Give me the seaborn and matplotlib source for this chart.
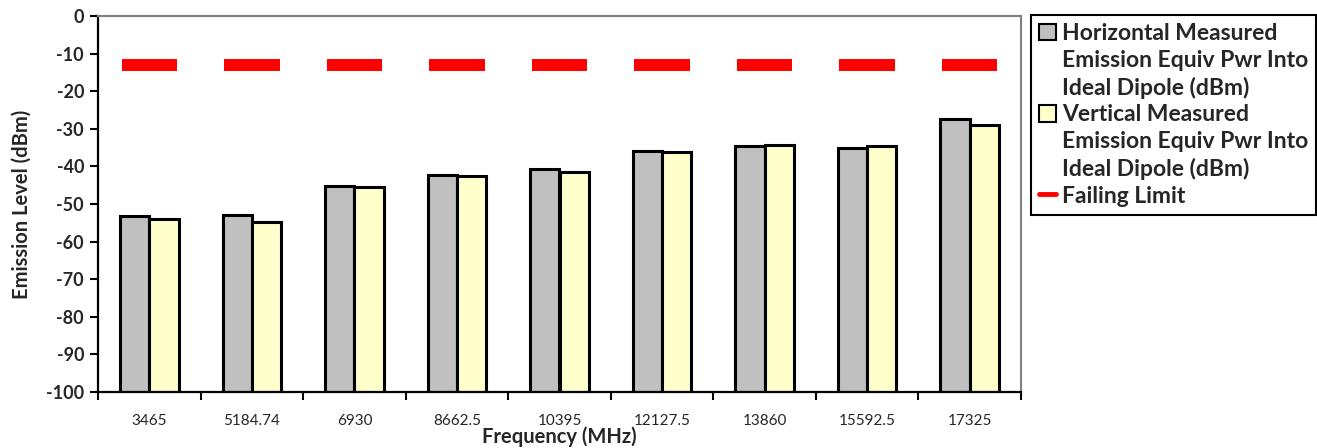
import matplotlib
matplotlib.use("Agg")
import matplotlib.pyplot as plt
import pandas as pd
import seaborn as sns
from matplotlib.patches import Patch
from matplotlib.lines import Line2D

# ---- data ----
frequencies = ["3465", "5184.74", "6930", "8662.5", "10395",
               "12127.5", "13860", "15592.5", "17325"]
horizontal_dbm = [-53.2, -52.8, -45.3, -42.4, -40.6, -35.9, -34.6, -35.0, -27.4]
vertical_dbm = [-53.9, -54.7, -45.6, -42.5, -41.4, -36.3, -34.3, -34.7, -29.0]
failing_limit_dbm = [-13, -13, -13, -13, -13, -13, -13, -13, -13]
series_names = ["Horizontal Measured Emission Equiv Pwr Into Ideal Dipole (dBm)",
                "Vertical Measured Emission Equiv Pwr Into Ideal Dipole (dBm)"]
limit_name = "Failing Limit"
y_ticks = [0, -10, -20, -30, -40, -50, -60, -70, -80, -90, -100]
legend_lines = [
    ["Horizontal Measured", "Emission Equiv Pwr Into", "Ideal Dipole (dBm)"],
    ["Vertical Measured", "Emission Equiv Pwr Into", "Ideal Dipole (dBm)"],
]

y_floor = -100
bar_colors = ["#C0C0C0", "#FFFFCC"]
limit_color = "#FF0000"

df = pd.DataFrame({
    "Frequency": frequencies * 2,
    "Level": horizontal_dbm + vertical_dbm,
    "Series": [series_names[0]] * len(frequencies) + [series_names[1]] * len(frequencies),
})

sns.set_theme(style="white")
plt.rcParams["font.family"] = ["Lato", "DejaVu Sans"]

fig = plt.figure(figsize=(13.17, 4.48), dpi=100)
ax = fig.add_axes([98 / 1317, 56 / 448, (1021 - 98) / 1317, (392 - 16) / 448])

sns.barplot(data=df, x="Frequency", y="Level", hue="Series", order=frequencies,
            hue_order=series_names, palette=bar_colors, saturation=1,
            width=0.57, gap=0, edgecolor="black", linewidth=2.2,
            legend=False, errorbar=None, ax=ax)

# bars rise from the bottom of the value axis up to each measured level
for bar in ax.patches:
    top = bar.get_y() + bar.get_height()
    bar.set_y(y_floor)
    bar.set_height(top - y_floor)

# failing limit drawn as one short dash per frequency
limit = ax.hlines(failing_limit_dbm,
                  [i - 0.27 for i in range(len(frequencies))],
                  [i + 0.27 for i in range(len(frequencies))],
                  color=limit_color, linewidth=8.6, zorder=4)
limit.set_capstyle("butt")

ax.set_xlim(-0.5, len(frequencies) - 0.5)
ax.set_ylim(y_floor, 0)
ax.set_yticks(y_ticks)
ax.set_yticklabels([str(v) for v in y_ticks], fontsize=13, fontweight="bold")
ax.tick_params(axis="y", which="major", direction="out", length=6, width=1.5,
               color="black", left=True, pad=4)

ax.set_xticks(range(len(frequencies)))
ax.set_xticklabels(frequencies, fontsize=11)
ax.set_xticks([i - 0.5 for i in range(len(frequencies) + 1)], minor=True)
ax.tick_params(axis="x", which="major", length=0, pad=16)
ax.tick_params(axis="x", which="minor", direction="out", length=6, width=1.5,
               color="black", bottom=True)

ax.set_xlabel("Frequency (MHz)", fontsize=14.5, fontweight="bold", labelpad=-1)
ax.set_ylabel("Emission Level (dBm)", fontsize=14.5, fontweight="bold", labelpad=10)

for side in ("left", "bottom"):
    ax.spines[side].set_color("black")
    ax.spines[side].set_linewidth(1.6)
for side in ("top", "right"):
    ax.spines[side].set_color("#808080")
    ax.spines[side].set_linewidth(1.5)

# legend: one row per text line, markers beside the first line of each entry
blank = Patch(facecolor="none", edgecolor="none")
handles, labels = [], []
for color, lines in zip(bar_colors, legend_lines):
    handles.append(Patch(facecolor=color, edgecolor="black", linewidth=1.5))
    labels.append(lines[0])
    for extra in lines[1:]:
        handles.append(blank)
        labels.append(extra)
handles.append(Line2D([0], [0], color=limit_color, linewidth=3.5))
labels.append(limit_name)

leg = fig.legend(handles, labels, loc="upper left",
                 bbox_to_anchor=(1031 / 1317, 1 - 15 / 448), borderaxespad=0,
                 frameon=True, fancybox=False, framealpha=1, edgecolor="black",
                 prop={"size": 16.5, "weight": "bold"},
                 handlelength=0.75, handleheight=0.75, handletextpad=0.25,
                 labelspacing=0.25, borderpad=0.35)
leg.get_frame().set_linewidth(1.5)

fig.savefig("out.png", dpi=100, facecolor="white")
